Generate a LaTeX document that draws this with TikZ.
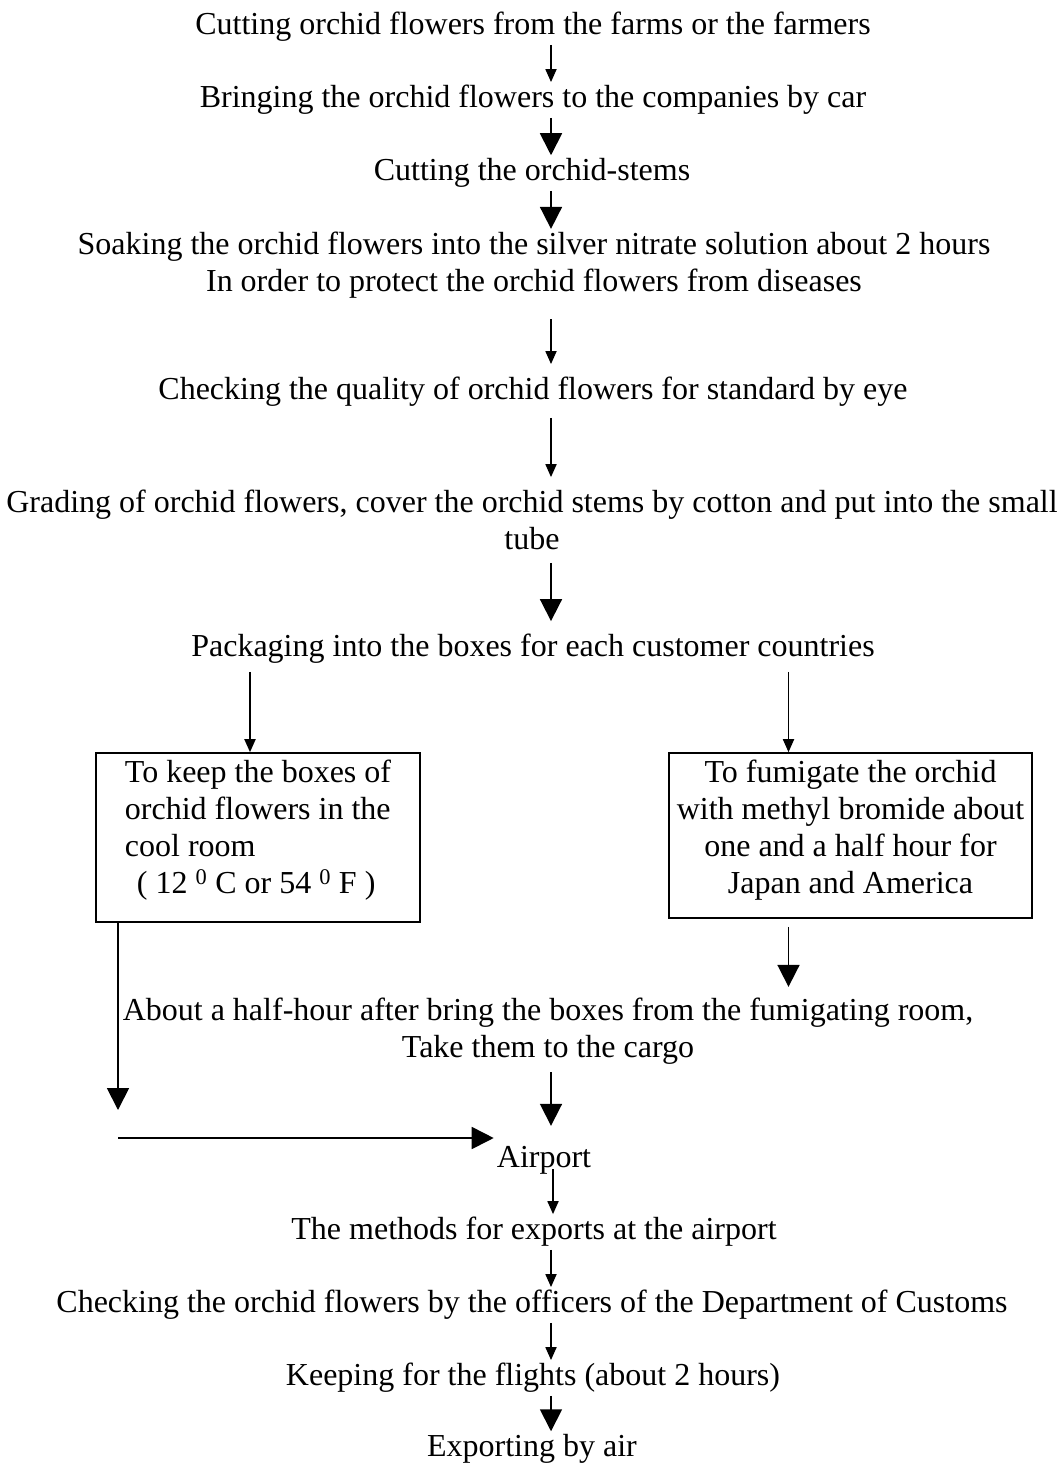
\documentclass[tikz,border=0pt]{standalone}
\usepackage{fontspec}
\setmainfont{Liberation Serif}
\usepackage{tikz}
\usetikzlibrary{arrows.meta,positioning,calc}

\begin{document}
\begin{tikzpicture}[
    x=1pt, y=-1pt,
    stage/.style={font=\fontsize{32}{36.5}\selectfont, align=center, inner sep=3pt, yshift=-3pt},
    box/.style={draw, line width=1.6pt, font=\fontsize{32}{37}\selectfont, inner sep=0pt},
    arr/.style={-{Triangle[length=13pt,width=11pt]}, line width=1.8pt},
    bigarr/.style={-{Triangle[length=22pt,width=22pt]}, line width=1.8pt}
]
\useasboundingbox (0,0) rectangle (1064,1463);
\coordinate (spine) at (551,0);

\node[stage] (cut) at (533,24) {Cutting orchid flowers from the farms or the farmers};
\node[stage] (bring) at (533,97) {Bringing the orchid flowers to the companies by car};
\node[stage] (stems) at (532,170) {Cutting the orchid-stems};
\node[stage] (soak) at (534,262) {Soaking the orchid flowers into the silver nitrate solution about 2 hours\\In order to protect the orchid flowers from diseases};
\node[stage] (check) at (533,389) {Checking the quality of orchid flowers for standard by eye};
\node[stage] (grade) at (532,517) {Grading of orchid flowers, cover the orchid stems by cotton and put into the small\\tube};
\node[stage] (pack) at (533,646) {Packaging into the boxes for each customer countries};

\node[box, minimum width=324, minimum height=169, align=left, text depth=22pt] (cool) at (258,837.5)
    {To keep the boxes of\\orchid flowers in the\\cool room\\\hspace*{12pt}( 12 \textsuperscript{0} C or 54 \textsuperscript{0} F )};
\node[box, minimum width=363, minimum height=165, align=center, text depth=18pt] (fumi) at (850.5,835.5)
    {To fumigate the orchid\\with methyl bromide about\\one and a half hour for\\Japan and America};

\node[stage] (cargo) at (548,1028) {About a half-hour after bring the boxes from the fumigating room,\\Take them to the cargo};
\node[stage] (airport) at (544,1157) {Airport};
\node[stage] (methods) at (534,1229) {The methods for exports at the airport};
\node[stage] (customs) at (532,1302) {Checking the orchid flowers by the officers of the Department of Customs};
\node[stage] (flight) at (533,1375) {Keeping for the flights (about 2 hours)};
\node[stage] (export) at (532,1446) {Exporting by air};

\coordinate (coolin) at ([xshift=-8]cool.north);
\coordinate (fumiin) at ([xshift=-62]fumi.north);
\coordinate (drop) at (118,1110);
\coordinate (turn) at (118,1138);

% main line
\draw[arr] (cut.south -| spine) -- (bring.north -| spine);
\draw[bigarr] (bring.south -| spine) -- (stems.north -| spine);
\draw[bigarr] (stems.south -| spine) -- (soak.north -| spine);
\draw[arr, shorten <=18pt, shorten >=10pt] (soak.south -| spine) -- (check.north -| spine);
\draw[arr, shorten <=8pt, shorten >=10pt] (check.south -| spine) -- (grade.north -| spine);
\draw[bigarr, shorten <=10pt, shorten >=10pt] (grade.south -| spine) -- (pack.north -| spine);

% two branches
\draw[arr, shorten <=5pt] (pack.south -| coolin) -- (coolin);
\draw[arr, shorten <=5pt] (pack.south -| fumiin) -- (fumiin);
\draw[bigarr, shorten <=8pt, shorten >=8pt] (fumi.south -| fumiin) -- (cargo.north -| fumiin);
\draw[bigarr] (cool.south -| drop) -- (drop);
\draw[bigarr] (turn) -- (turn -| airport.west);
\draw[bigarr, shorten <=5pt, shorten >=17pt] (cargo.south -| spine) -- (airport.north -| spine);

% at the airport
\draw[arr, shorten <=-8pt] ([xshift=2]airport.south -| spine) -- ([xshift=2]methods.north -| spine);
\draw[arr] (methods.south -| spine) -- (customs.north -| spine);
\draw[arr] (customs.south -| spine) -- (flight.north -| spine);
\draw[bigarr] (flight.south -| spine) -- (export.north -| spine);
\end{tikzpicture}
\end{document}
